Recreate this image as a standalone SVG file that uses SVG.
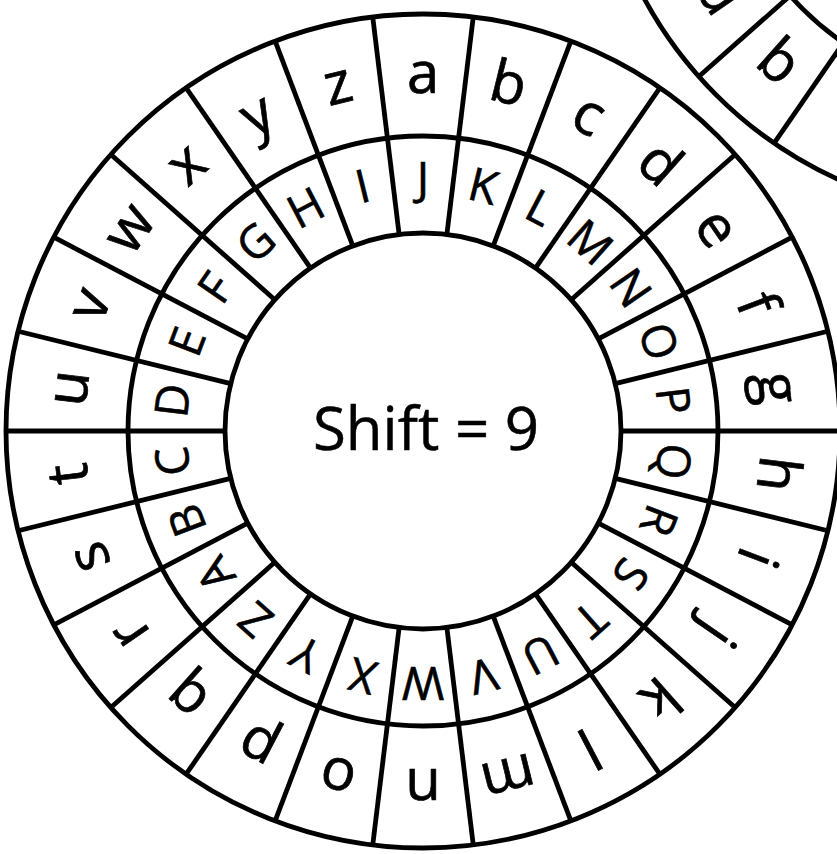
<svg xmlns="http://www.w3.org/2000/svg" xmlns:xlink="http://www.w3.org/1999/xlink" width="837" height="854" viewBox="0 0 837 854">
<style>
.ln{fill:none;stroke:#000;stroke-width:4.8}
.o{font-family:"Open Sans","Noto Sans",sans-serif;font-size:58px;text-anchor:middle;fill:#000;stroke:#000;stroke-width:0.7}
.i{font-family:"Open Sans","Noto Sans",sans-serif;font-size:46px;text-anchor:middle;fill:#000;stroke:#000;stroke-width:0.6}
.c{font-family:"Open Sans","Noto Sans",sans-serif;font-size:60px;text-anchor:middle;fill:#000;stroke:#000;stroke-width:0.5}
</style>
<defs>
<line id="sp" x1="0" y1="-198" x2="0" y2="-417"/>
<g id="frame" class="ln">
<circle r="417"/><circle r="295"/><circle r="198"/>
<use href="#sp" transform="rotate(6.923)"/>
<use href="#sp" transform="rotate(20.769)"/>
<use href="#sp" transform="rotate(34.615)"/>
<use href="#sp" transform="rotate(48.462)"/>
<use href="#sp" transform="rotate(62.308)"/>
<use href="#sp" transform="rotate(76.154)"/>
<use href="#sp" transform="rotate(90)"/>
<use href="#sp" transform="rotate(103.846)"/>
<use href="#sp" transform="rotate(117.692)"/>
<use href="#sp" transform="rotate(131.538)"/>
<use href="#sp" transform="rotate(145.385)"/>
<use href="#sp" transform="rotate(159.231)"/>
<use href="#sp" transform="rotate(173.077)"/>
<use href="#sp" transform="rotate(186.923)"/>
<use href="#sp" transform="rotate(200.769)"/>
<use href="#sp" transform="rotate(214.615)"/>
<use href="#sp" transform="rotate(228.462)"/>
<use href="#sp" transform="rotate(242.308)"/>
<use href="#sp" transform="rotate(256.154)"/>
<use href="#sp" transform="rotate(270)"/>
<use href="#sp" transform="rotate(283.846)"/>
<use href="#sp" transform="rotate(297.692)"/>
<use href="#sp" transform="rotate(311.538)"/>
<use href="#sp" transform="rotate(325.385)"/>
<use href="#sp" transform="rotate(339.231)"/>
<use href="#sp" transform="rotate(353.077)"/>
</g>
</defs>
<rect width="837" height="854" fill="#fff"/>
<g id="wheel2" transform="translate(1011,-200)">
<use href="#frame"/>
<text class="o" transform="rotate(221.538)" y="-338">q</text>
<text class="o" transform="rotate(235.385)" y="-338">r</text>
</g>
<g id="wheel" transform="translate(423,431)">
<use href="#frame"/>
<g id="outer">
<text class="o" transform="rotate(0)" y="-338">a</text>
<text class="o" transform="rotate(13.846)" y="-338">b</text>
<text class="o" transform="rotate(27.692)" y="-338">c</text>
<text class="o" transform="rotate(41.538)" y="-338">d</text>
<text class="o" transform="rotate(55.385)" y="-338">e</text>
<text class="o" transform="rotate(69.231)" y="-338">f</text>
<text class="o" transform="rotate(83.077)" y="-338">g</text>
<text class="o" transform="rotate(96.923)" y="-338">h</text>
<text class="o" transform="rotate(110.769)" y="-338">i</text>
<text class="o" transform="rotate(124.615)" y="-338">j</text>
<text class="o" transform="rotate(138.462)" y="-338">k</text>
<text class="o" transform="rotate(152.308)" y="-338">l</text>
<text class="o" transform="rotate(166.154)" y="-338">m</text>
<text class="o" transform="rotate(180)" y="-338">n</text>
<text class="o" transform="rotate(193.846)" y="-338">o</text>
<text class="o" transform="rotate(207.692)" y="-338">p</text>
<text class="o" transform="rotate(221.538)" y="-338">q</text>
<text class="o" transform="rotate(235.385)" y="-338">r</text>
<text class="o" transform="rotate(249.231)" y="-338">s</text>
<text class="o" transform="rotate(263.077)" y="-338">t</text>
<text class="o" transform="rotate(276.923)" y="-338">u</text>
<text class="o" transform="rotate(290.769)" y="-338">v</text>
<text class="o" transform="rotate(304.615)" y="-338">w</text>
<text class="o" transform="rotate(318.462)" y="-338">x</text>
<text class="o" transform="rotate(332.308)" y="-338">y</text>
<text class="o" transform="rotate(346.154)" y="-338">z</text>
</g>
<g id="inner">
<text class="i" transform="rotate(0)" y="-236">J</text>
<text class="i" transform="rotate(13.846)" y="-236">K</text>
<text class="i" transform="rotate(27.692)" y="-236">L</text>
<text class="i" transform="rotate(41.538)" y="-236">M</text>
<text class="i" transform="rotate(55.385)" y="-236">N</text>
<text class="i" transform="rotate(69.231)" y="-236">O</text>
<text class="i" transform="rotate(83.077)" y="-236">P</text>
<text class="i" transform="rotate(96.923)" y="-236">Q</text>
<text class="i" transform="rotate(110.769)" y="-236">R</text>
<text class="i" transform="rotate(124.615)" y="-236">S</text>
<text class="i" transform="rotate(138.462)" y="-236">T</text>
<text class="i" transform="rotate(152.308)" y="-236">U</text>
<text class="i" transform="rotate(166.154)" y="-236">V</text>
<text class="i" transform="rotate(180)" y="-236">W</text>
<text class="i" transform="rotate(193.846)" y="-236">X</text>
<text class="i" transform="rotate(207.692)" y="-236">Y</text>
<text class="i" transform="rotate(221.538)" y="-236">Z</text>
<text class="i" transform="rotate(235.385)" y="-236">A</text>
<text class="i" transform="rotate(249.231)" y="-236">B</text>
<text class="i" transform="rotate(263.077)" y="-236">C</text>
<text class="i" transform="rotate(276.923)" y="-236">D</text>
<text class="i" transform="rotate(290.769)" y="-236">E</text>
<text class="i" transform="rotate(304.615)" y="-236">F</text>
<text class="i" transform="rotate(318.462)" y="-236">G</text>
<text class="i" transform="rotate(332.308)" y="-236">H</text>
<text class="i" transform="rotate(346.154)" y="-236">I</text>
</g>
<text id="center-label" class="c" x="3" y="19">Shift = 9</text>
</g>
</svg>
